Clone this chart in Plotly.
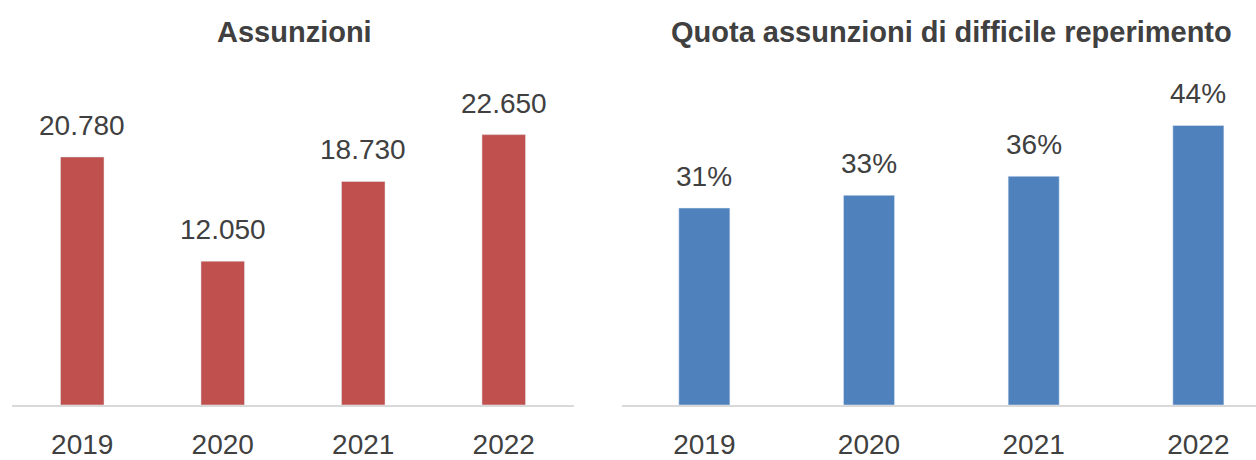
import plotly.graph_objects as go

years = ["2019", "2020", "2021", "2022"]
assunzioni = [20780, 12050, 18730, 22650]
quota = [31, 33, 36, 44]
titles = ["Assunzioni", "Quota assunzioni di difficile reperimento"]

FONT = "Liberation Sans Narrow, Arial Narrow, Liberation Sans, Arial, sans-serif"
TXT = "#404040"
RED = "#C0504D"
BLUE = "#4F81BD"
W, H = 1256, 460


def fmt_it(v):
    return f"{v:,}".replace(",", ".")


fig = go.Figure()
fig.add_trace(go.Bar(x=years, y=assunzioni, marker_color=RED, width=0.31,
                     xaxis="x", yaxis="y", showlegend=False, hoverinfo="skip"))
fig.add_trace(go.Bar(x=years, y=quota, marker_color=BLUE, width=0.31,
                     xaxis="x2", yaxis="y2", showlegend=False, hoverinfo="skip"))

ann = []
for i, v in enumerate(assunzioni):
    ann.append(dict(x=i, y=v, xref="x", yref="y", text=fmt_it(v), showarrow=False,
                    yanchor="bottom", yshift=14, font=dict(family=FONT, size=28, color=TXT)))
for i, v in enumerate(quota):
    ann.append(dict(x=i, y=v, xref="x2", yref="y2", text=f"{v}%", showarrow=False,
                    yanchor="bottom", yshift=14, font=dict(family=FONT, size=28, color=TXT)))
ann.append(dict(x=294 / W, y=1 - 32 / H, xref="paper", yref="paper", text=f"<b>{titles[0]}</b>",
                showarrow=False, xanchor="center", yanchor="middle",
                font=dict(family=FONT, size=29, color=TXT)))
ann.append(dict(x=951 / W, y=1 - 32 / H, xref="paper", yref="paper", text=f"<b>{titles[1]}</b>",
                showarrow=False, xanchor="center", yanchor="middle",
                font=dict(family=FONT, size=29, color=TXT)))

base = 55 / H
top = 400 / H
axis_common = dict(showgrid=False, zeroline=False, showline=True, linecolor="#D9D9D9", linewidth=1.5,
                   ticks="outside", ticklen=14, tickcolor="rgba(0,0,0,0)",
                   tickfont=dict(family=FONT, size=28, color=TXT), fixedrange=True)

fig.update_layout(
    width=W, height=H,
    margin=dict(l=0, r=0, t=0, b=0),
    paper_bgcolor="white", plot_bgcolor="white",
    xaxis=dict(domain=[12 / W, 574 / W], range=[-0.5, 3.5], type="category", anchor="y", **axis_common),
    xaxis2=dict(domain=[622 / W, 1.0], range=[-0.5, 3.35], type="category", anchor="y2", **axis_common),
    yaxis=dict(domain=[base, top], range=[0, 28900], visible=False, anchor="x"),
    yaxis2=dict(domain=[base, top], range=[0, 54.3], visible=False, anchor="x2"),
    annotations=ann,
    bargap=0.2,
)

fig.write_html("out.html", config={"displayModeBar": False},
               post_script="document.body.style.margin='0';document.body.style.overflow='hidden';")
